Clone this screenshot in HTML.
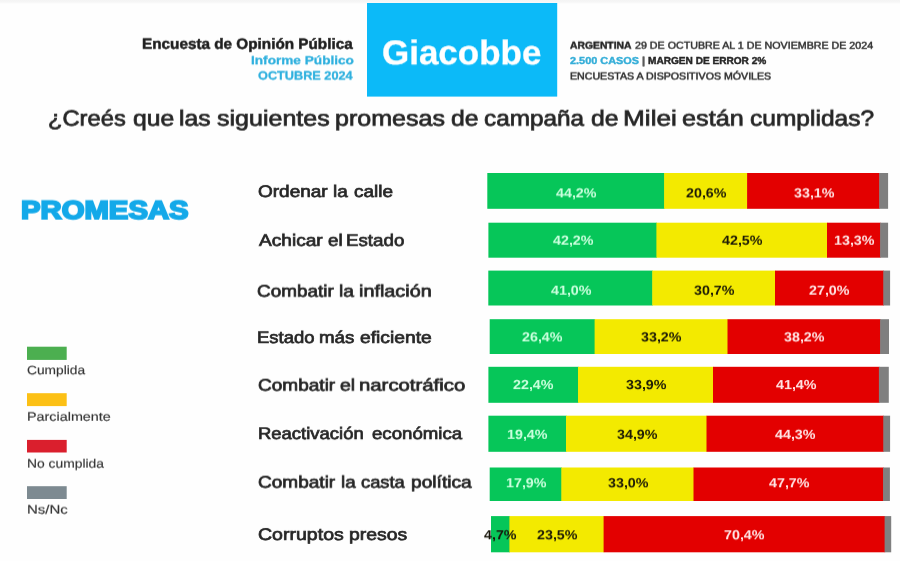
<!DOCTYPE html>
<html lang="es">
<head>
<meta charset="utf-8">
<title>Giacobbe - Encuesta de Opinión Pública</title>
<style>
html,body{margin:0;padding:0;}
body{width:900px;height:561px;background:#fefefe;position:relative;overflow:hidden;font-family:'Liberation Sans', Arial, sans-serif;}
.topstrip{position:absolute;left:0;top:0;width:900px;height:4px;background:linear-gradient(#f4f4f4,#f6f6f6 50%,#fefefe);}
.t{position:absolute;white-space:nowrap;line-height:1;transform-origin:0 0;text-rendering:geometricPrecision;filter:blur(0.3px);}
</style>
</head>
<body>
<div class="topstrip"></div>
<svg class="bars" width="900" height="561" viewBox="0 0 900 561" style="position:absolute;left:0;top:0;filter:blur(0.35px);">
<rect x="367" y="3" width="190.2" height="93.6" fill="#0cbaf8"/>
<rect x="487.3" y="173.0" width="177.4" height="35.8" fill="#06c659"/><rect x="664.1" y="173.0" width="83.6" height="35.8" fill="#f3ea00"/><rect x="747.1" y="173.0" width="132.7" height="35.8" fill="#e30000"/><rect x="879.2" y="173.0" width="8.9" height="35.8" fill="#7f7f7f"/>
<rect x="488.4" y="222.7" width="168.6" height="35.0" fill="#06c659"/><rect x="656.4" y="222.7" width="171.2" height="35.0" fill="#f3ea00"/><rect x="827.0" y="222.7" width="53.7" height="35.0" fill="#e30000"/><rect x="880.1" y="222.7" width="8.0" height="35.0" fill="#7f7f7f"/>
<rect x="488.3" y="270.6" width="164.5" height="34.9" fill="#06c659"/><rect x="652.2" y="270.6" width="123.4" height="34.9" fill="#f3ea00"/><rect x="775.0" y="270.6" width="108.9" height="34.9" fill="#e30000"/><rect x="883.3" y="270.6" width="6.8" height="34.9" fill="#7f7f7f"/>
<rect x="489.7" y="319.2" width="105.5" height="34.8" fill="#06c659"/><rect x="594.6" y="319.2" width="133.5" height="34.8" fill="#f3ea00"/><rect x="727.5" y="319.2" width="153.2" height="34.8" fill="#e30000"/><rect x="880.1" y="319.2" width="8.9" height="34.8" fill="#7f7f7f"/>
<rect x="488.4" y="366.8" width="90.2" height="36.0" fill="#06c659"/><rect x="578.0" y="366.8" width="135.6" height="36.0" fill="#f3ea00"/><rect x="713.0" y="366.8" width="166.5" height="36.0" fill="#e30000"/><rect x="878.9" y="366.8" width="9.9" height="36.0" fill="#7f7f7f"/>
<rect x="488.4" y="415.7" width="78.2" height="36.1" fill="#06c659"/><rect x="566.0" y="415.7" width="141.1" height="36.1" fill="#f3ea00"/><rect x="706.5" y="415.7" width="177.4" height="36.1" fill="#e30000"/><rect x="883.3" y="415.7" width="6.8" height="36.1" fill="#7f7f7f"/>
<rect x="489.7" y="467.5" width="72.2" height="33.5" fill="#06c659"/><rect x="561.3" y="467.5" width="132.8" height="33.5" fill="#f3ea00"/><rect x="693.5" y="467.5" width="190.2" height="33.5" fill="#e30000"/><rect x="883.1" y="467.5" width="6.8" height="33.5" fill="#7f7f7f"/>
<rect x="491.0" y="516.1" width="19.0" height="36.2" fill="#06c659"/><rect x="509.4" y="516.1" width="94.8" height="36.2" fill="#f3ea00"/><rect x="603.6" y="516.1" width="281.6" height="36.2" fill="#e30000"/><rect x="884.6" y="516.1" width="6.6" height="36.2" fill="#7f7f7f"/>
<rect x="27" y="346.7" width="39.7" height="13.2" fill="#4caf50"/>
<rect x="27" y="393.2" width="39.7" height="12.9" fill="#fcc015"/>
<rect x="27" y="439.9" width="39.7" height="12.6" fill="#da1f2d"/>
<rect x="27" y="486.2" width="39.7" height="12.8" fill="#7d8a91"/>
</svg>
<div class="t" style="left:142.22px;top:37px;font-size:14.8px;font-weight:700;color:#1f1f1f;-webkit-text-stroke:0.5px #1f1f1f;transform:translateY(0.75px) rotate(0.03deg) scaleX(1.0334);">Encuesta de Opinión Pública</div>
<div class="t" style="left:250.83px;top:55px;font-size:11.8px;font-weight:700;color:#2fb0de;-webkit-text-stroke:0.3px #2fb0de;transform:translateY(0.25px) rotate(0.03deg) scaleX(1.1545);">Informe Público</div>
<div class="t" style="left:258.04px;top:69px;font-size:12.0px;font-weight:700;color:#2fb0de;-webkit-text-stroke:0.3px #2fb0de;transform:translateY(0.55px) rotate(0.03deg) scaleX(1.0588);">OCTUBRE 2024</div>
<div class="t" style="left:382.13px;top:36px;font-size:34.3px;font-weight:700;color:#ffffff;-webkit-text-stroke:0.3px #ffffff;transform:translateY(0.25px) rotate(0.03deg) scaleX(1.0195);">Giacobbe</div>
<div class="ln"><span class="t" style="left:570.40px;top:41px;font-size:10.1px;font-weight:700;color:#262626;-webkit-text-stroke:0.45px #262626;transform:translateY(0.67px) rotate(0.03deg) scaleX(1.0250);">ARGENTINA</span> <span class="t" style="left:635.14px;top:41px;font-size:10.1px;font-weight:400;color:#2e2e2e;-webkit-text-stroke:0.45px #2e2e2e;transform:translateY(0.67px) rotate(0.03deg) scaleX(1.0576);">29 DE OCTUBRE AL 1 DE NOVIEMBRE DE 2024</span></div>
<div class="ln"><span class="t" style="left:570.13px;top:57px;font-size:10.1px;font-weight:700;color:#35aed8;-webkit-text-stroke:0.4px #35aed8;transform:translateY(0.00px) rotate(0.03deg) scaleX(1.0803);">2.500 CASOS</span> <span class="t" style="left:642.26px;top:56px;font-size:10.1px;font-weight:700;color:#5a5a5a;-webkit-text-stroke:0.5px #5a5a5a;transform:translateY(0.95px) rotate(0.03deg) scaleX(1.0857);">|</span> <span class="t" style="left:647.70px;top:56px;font-size:10.1px;font-weight:700;color:#262626;-webkit-text-stroke:0.45px #262626;transform:translateY(0.98px) rotate(0.03deg) scaleX(0.9996);">MARGEN DE ERROR 2%</span></div>
<div class="t" style="left:569.87px;top:72px;font-size:10.1px;font-weight:400;color:#2e2e2e;-webkit-text-stroke:0.5px #2e2e2e;transform:translateY(0.45px) rotate(0.03deg) scaleX(1.0530);">ENCUESTAS A DISPOSITIVOS MÓVILES</div>
<div class="ln"><span class="t" style="left:47.92px;top:107px;font-size:21.9px;font-weight:400;color:#262626;-webkit-text-stroke:0.7px #262626;transform:translateY(0.65px) rotate(0.03deg) scaleX(1.0833);">¿Creés</span> <span class="t" style="left:132.58px;top:107px;font-size:21.9px;font-weight:400;color:#262626;-webkit-text-stroke:0.7px #262626;transform:translateY(0.65px) rotate(0.03deg) scaleX(1.1299);">que</span> <span class="t" style="left:178.51px;top:107px;font-size:21.9px;font-weight:400;color:#262626;-webkit-text-stroke:0.7px #262626;transform:translateY(0.65px) rotate(0.03deg) scaleX(1.1299);">las</span> <span class="t" style="left:216.51px;top:107px;font-size:21.9px;font-weight:400;color:#262626;-webkit-text-stroke:0.7px #262626;transform:translateY(0.65px) rotate(0.03deg) scaleX(1.1437);">siguientes</span> <span class="t" style="left:334.75px;top:107px;font-size:21.9px;font-weight:400;color:#262626;-webkit-text-stroke:0.7px #262626;transform:translateY(0.65px) rotate(0.03deg) scaleX(1.1451);">promesas</span> <span class="t" style="left:451.30px;top:107px;font-size:21.9px;font-weight:400;color:#262626;-webkit-text-stroke:0.7px #262626;transform:translateY(0.65px) rotate(0.03deg) scaleX(1.1299);">de</span> <span class="t" style="left:483.74px;top:107px;font-size:21.9px;font-weight:400;color:#262626;-webkit-text-stroke:0.7px #262626;transform:translateY(0.65px) rotate(0.03deg) scaleX(1.1111);">campaña</span> <span class="t" style="left:590.65px;top:107px;font-size:21.9px;font-weight:400;color:#262626;-webkit-text-stroke:0.7px #262626;transform:translateY(0.65px) rotate(0.03deg) scaleX(1.1299);">de</span> <span class="t" style="left:622.85px;top:107px;font-size:21.9px;font-weight:400;color:#262626;-webkit-text-stroke:0.7px #262626;transform:translateY(0.65px) rotate(0.03deg) scaleX(1.1977);">Milei</span> <span class="t" style="left:682.42px;top:107px;font-size:21.9px;font-weight:400;color:#262626;-webkit-text-stroke:0.7px #262626;transform:translateY(0.65px) rotate(0.03deg) scaleX(1.1519);">están</span> <span class="t" style="left:750.14px;top:107px;font-size:21.9px;font-weight:400;color:#262626;-webkit-text-stroke:0.7px #262626;transform:translateY(0.65px) rotate(0.03deg) scaleX(1.1207);">cumplidas?</span></div>
<div class="t" style="left:21.33px;top:198px;font-size:25.4px;font-weight:700;color:#14a9e9;-webkit-text-stroke:1.9px #14a9e9;transform:translateY(0.65px) rotate(0.03deg) scaleX(1.1536);">PROMESAS</div>
<div class="ln"><span class="t" style="left:258.33px;top:183px;font-size:16.7px;font-weight:400;color:#262626;-webkit-text-stroke:0.7px #262626;transform:translateY(0.95px) rotate(0.03deg) scaleX(1.1374);">Ordenar</span> <span class="t" style="left:333.34px;top:183px;font-size:16.7px;font-weight:400;color:#262626;-webkit-text-stroke:0.7px #262626;transform:translateY(0.95px) rotate(0.03deg) scaleX(1.1364);">la</span> <span class="t" style="left:354.12px;top:183px;font-size:16.7px;font-weight:400;color:#262626;-webkit-text-stroke:0.7px #262626;transform:translateY(0.95px) rotate(0.03deg) scaleX(1.1348);">calle</span></div>
<div class="ln"><span class="t" style="left:258.77px;top:232px;font-size:16.7px;font-weight:400;color:#262626;-webkit-text-stroke:0.7px #262626;transform:translateY(0.85px) rotate(0.03deg) scaleX(1.1449);">Achicar</span> <span class="t" style="left:327.84px;top:232px;font-size:16.7px;font-weight:400;color:#262626;-webkit-text-stroke:0.7px #262626;transform:translateY(0.85px) rotate(0.03deg) scaleX(1.1293);">el</span> <span class="t" style="left:346.38px;top:232px;font-size:16.7px;font-weight:400;color:#262626;-webkit-text-stroke:0.7px #262626;transform:translateY(0.85px) rotate(0.03deg) scaleX(1.1228);">Estado</span></div>
<div class="ln"><span class="t" style="left:257.43px;top:283px;font-size:16.7px;font-weight:400;color:#262626;-webkit-text-stroke:0.7px #262626;transform:translateY(0.65px) rotate(0.03deg) scaleX(1.1331);">Combatir</span> <span class="t" style="left:339.43px;top:283px;font-size:16.7px;font-weight:400;color:#262626;-webkit-text-stroke:0.7px #262626;transform:translateY(0.65px) rotate(0.03deg) scaleX(1.1534);">la</span> <span class="t" style="left:359.11px;top:283px;font-size:16.7px;font-weight:400;color:#262626;-webkit-text-stroke:0.7px #262626;transform:translateY(0.65px) rotate(0.03deg) scaleX(1.1866);">inflación</span></div>
<div class="ln"><span class="t" style="left:257.39px;top:329px;font-size:16.7px;font-weight:400;color:#262626;-webkit-text-stroke:0.7px #262626;transform:translateY(0.95px) rotate(0.03deg) scaleX(1.1069);">Estado</span> <span class="t" style="left:319.42px;top:329px;font-size:16.7px;font-weight:400;color:#262626;-webkit-text-stroke:0.7px #262626;transform:translateY(0.95px) rotate(0.03deg) scaleX(1.1235);">más</span> <span class="t" style="left:359.71px;top:329px;font-size:16.7px;font-weight:400;color:#262626;-webkit-text-stroke:0.7px #262626;transform:translateY(0.95px) rotate(0.03deg) scaleX(1.1545);">eficiente</span></div>
<div class="ln"><span class="t" style="left:257.83px;top:377px;font-size:16.7px;font-weight:400;color:#262626;-webkit-text-stroke:0.7px #262626;transform:translateY(0.65px) rotate(0.03deg) scaleX(1.1405);">Combatir</span> <span class="t" style="left:340.45px;top:377px;font-size:16.7px;font-weight:400;color:#262626;-webkit-text-stroke:0.7px #262626;transform:translateY(0.65px) rotate(0.03deg) scaleX(1.1679);">el</span> <span class="t" style="left:359.49px;top:377px;font-size:16.7px;font-weight:400;color:#262626;-webkit-text-stroke:0.7px #262626;transform:translateY(0.65px) rotate(0.03deg) scaleX(1.2186);">narcotráfico</span></div>
<div class="ln"><span class="t" style="left:258.39px;top:426px;font-size:16.7px;font-weight:400;color:#262626;-webkit-text-stroke:0.7px #262626;transform:translateY(0.05px) rotate(0.03deg) scaleX(1.1061);">Reactivación</span> <span class="t" style="left:371.62px;top:426px;font-size:16.7px;font-weight:400;color:#262626;-webkit-text-stroke:0.7px #262626;transform:translateY(0.05px) rotate(0.03deg) scaleX(1.1170);">económica</span></div>
<div class="ln"><span class="t" style="left:257.83px;top:474px;font-size:16.7px;font-weight:400;color:#262626;-webkit-text-stroke:0.7px #262626;transform:translateY(0.65px) rotate(0.03deg) scaleX(1.1405);">Combatir</span> <span class="t" style="left:340.76px;top:474px;font-size:16.7px;font-weight:400;color:#262626;-webkit-text-stroke:0.7px #262626;transform:translateY(0.65px) rotate(0.03deg) scaleX(1.1274);">la</span> <span class="t" style="left:360.93px;top:474px;font-size:16.7px;font-weight:400;color:#262626;-webkit-text-stroke:0.7px #262626;transform:translateY(0.65px) rotate(0.03deg) scaleX(1.0975);">casta</span> <span class="t" style="left:410.64px;top:474px;font-size:16.7px;font-weight:400;color:#262626;-webkit-text-stroke:0.7px #262626;transform:translateY(0.65px) rotate(0.03deg) scaleX(1.1486);">política</span></div>
<div class="ln"><span class="t" style="left:257.81px;top:526px;font-size:16.7px;font-weight:400;color:#262626;-webkit-text-stroke:0.7px #262626;transform:translateY(0.95px) rotate(0.03deg) scaleX(1.1710);">Corruptos</span> <span class="t" style="left:349.33px;top:526px;font-size:16.7px;font-weight:400;color:#262626;-webkit-text-stroke:0.7px #262626;transform:translateY(0.95px) rotate(0.03deg) scaleX(1.1633);">presos</span></div>
<div class="t" style="left:27.24px;top:364px;font-size:12.2px;font-weight:400;color:#333333;-webkit-text-stroke:0.15px #333333;transform:translateY(0.23px) rotate(0.03deg) scaleX(1.1275);">Cumplida</div>
<div class="t" style="left:26.62px;top:410px;font-size:12.2px;font-weight:400;color:#333333;-webkit-text-stroke:0.15px #333333;transform:translateY(0.73px) rotate(0.03deg) scaleX(1.1785);">Parcialmente</div>
<div class="t" style="left:26.66px;top:457px;font-size:12.2px;font-weight:400;color:#333333;-webkit-text-stroke:0.15px #333333;transform:translateY(0.62px) rotate(0.03deg) scaleX(1.1371);">No cumplida</div>
<div class="t" style="left:26.57px;top:503px;font-size:12.2px;font-weight:400;color:#333333;-webkit-text-stroke:0.15px #333333;transform:translateY(0.62px) rotate(0.03deg) scaleX(1.2281);">Ns/Nc</div>
<div class="t" style="left:556.11px;top:186px;font-size:13.2px;font-weight:700;color:#caffdd;transform:translateY(0.40px) rotate(0.03deg) scaleX(1.0838);">44,2%</div>
<div class="t" style="left:685.88px;top:186px;font-size:13.2px;font-weight:700;color:#1c1a06;transform:translateY(0.40px) rotate(0.03deg) scaleX(1.0838);">20,6%</div>
<div class="t" style="left:793.56px;top:186px;font-size:13.2px;font-weight:700;color:#ffe4e4;transform:translateY(0.40px) rotate(0.03deg) scaleX(1.0838);">33,1%</div>
<div class="t" style="left:552.81px;top:233px;font-size:13.2px;font-weight:700;color:#caffdd;transform:translateY(0.70px) rotate(0.03deg) scaleX(1.0838);">42,2%</div>
<div class="t" style="left:722.11px;top:233px;font-size:13.2px;font-weight:700;color:#1c1a06;transform:translateY(0.70px) rotate(0.03deg) scaleX(1.0838);">42,5%</div>
<div class="t" style="left:833.69px;top:233px;font-size:13.2px;font-weight:700;color:#ffe4e4;transform:translateY(0.70px) rotate(0.03deg) scaleX(1.0838);">13,3%</div>
<div class="t" style="left:550.66px;top:283px;font-size:13.2px;font-weight:700;color:#caffdd;transform:translateY(0.70px) rotate(0.03deg) scaleX(1.0838);">41,0%</div>
<div class="t" style="left:694.01px;top:283px;font-size:13.2px;font-weight:700;color:#1c1a06;transform:translateY(0.70px) rotate(0.03deg) scaleX(1.0838);">30,7%</div>
<div class="t" style="left:809.43px;top:283px;font-size:13.2px;font-weight:700;color:#ffe4e4;transform:translateY(0.70px) rotate(0.03deg) scaleX(1.0838);">27,0%</div>
<div class="t" style="left:522.43px;top:330px;font-size:13.2px;font-weight:700;color:#caffdd;transform:translateY(0.40px) rotate(0.03deg) scaleX(1.0838);">26,4%</div>
<div class="t" style="left:641.46px;top:330px;font-size:13.2px;font-weight:700;color:#1c1a06;transform:translateY(0.40px) rotate(0.03deg) scaleX(1.0838);">33,2%</div>
<div class="t" style="left:784.21px;top:330px;font-size:13.2px;font-weight:700;color:#ffe4e4;transform:translateY(0.40px) rotate(0.03deg) scaleX(1.0838);">38,2%</div>
<div class="t" style="left:513.48px;top:378px;font-size:13.2px;font-weight:700;color:#caffdd;transform:translateY(0.10px) rotate(0.03deg) scaleX(1.0838);">22,4%</div>
<div class="t" style="left:625.91px;top:378px;font-size:13.2px;font-weight:700;color:#1c1a06;transform:translateY(0.10px) rotate(0.03deg) scaleX(1.0838);">33,9%</div>
<div class="t" style="left:776.36px;top:378px;font-size:13.2px;font-weight:700;color:#ffe4e4;transform:translateY(0.10px) rotate(0.03deg) scaleX(1.0838);">41,4%</div>
<div class="t" style="left:507.34px;top:427px;font-size:13.2px;font-weight:700;color:#caffdd;transform:translateY(0.80px) rotate(0.03deg) scaleX(1.0838);">19,4%</div>
<div class="t" style="left:616.66px;top:427px;font-size:13.2px;font-weight:700;color:#1c1a06;transform:translateY(0.80px) rotate(0.03deg) scaleX(1.0838);">34,9%</div>
<div class="t" style="left:775.31px;top:427px;font-size:13.2px;font-weight:700;color:#ffe4e4;transform:translateY(0.80px) rotate(0.03deg) scaleX(1.0838);">44,3%</div>
<div class="t" style="left:505.64px;top:476px;font-size:13.2px;font-weight:700;color:#caffdd;transform:translateY(0.30px) rotate(0.03deg) scaleX(1.0838);">17,9%</div>
<div class="t" style="left:607.81px;top:476px;font-size:13.2px;font-weight:700;color:#1c1a06;transform:translateY(0.30px) rotate(0.03deg) scaleX(1.0838);">33,0%</div>
<div class="t" style="left:768.71px;top:476px;font-size:13.2px;font-weight:700;color:#ffe4e4;transform:translateY(0.30px) rotate(0.03deg) scaleX(1.0838);">47,7%</div>
<div class="t" style="left:484.04px;top:528px;font-size:13.2px;font-weight:700;color:#17150a;transform:translateY(0.30px) rotate(0.03deg) scaleX(1.0838);">4,7%</div>
<div class="t" style="left:536.78px;top:528px;font-size:13.2px;font-weight:700;color:#1c1a06;transform:translateY(0.30px) rotate(0.03deg) scaleX(1.0838);">23,5%</div>
<div class="t" style="left:724.38px;top:528px;font-size:13.2px;font-weight:700;color:#ffe4e4;transform:translateY(0.30px) rotate(0.03deg) scaleX(1.0838);">70,4%</div>
</body>
</html>
